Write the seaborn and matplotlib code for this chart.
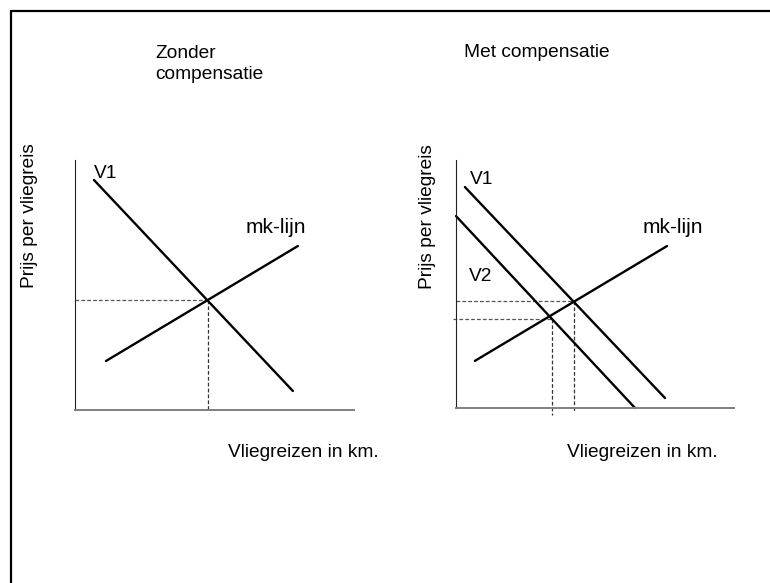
import numpy as np
import pandas as pd
import seaborn as sns
import matplotlib.pyplot as plt
from matplotlib.patches import Rectangle

# line end points, axis units 0..100 (price up, km right)
v1_left_x = [6.8, 78.1]
v1_left_y = [92.0, 7.6]
mk_left_x = [11.1, 79.9]
mk_left_y = [19.6, 65.6]
eq_left = (47.7, 44.0)

v1_right_x = [3.2, 75.2]
v1_right_y = [89.1, 4.0]
v2_right_x = [0.0, 64.4]
v2_right_y = [77.4, 0.0]
mk_right_x = [6.8, 75.9]
mk_right_y = [19.0, 65.3]
eq_right = [(42.4, 43.1), (34.6, 35.8)]

W, H = 770, 583


def px(x, y):
    # pixel position -> figure fraction
    return x / W, 1 - y / H


sns.set_theme(style="white")
plt.rcParams["font.family"] = ["Liberation Sans", "DejaVu Sans"]
plt.rcParams["text.color"] = "black"

fig = plt.figure(figsize=(7.7, 5.83), dpi=100)

# outer frame, right and bottom edge fall outside the picture
fig.patches.append(Rectangle(px(11, 700), 1.2, 689 / H,
                             transform=fig.transFigure, fill=False,
                             edgecolor="black", lw=1.6))

ax1 = fig.add_axes([75 / W, 1 - 410 / H, 279 / W, 250 / H])
ax2 = fig.add_axes([456 / W, 1 - 408 / H, 278 / W, 248 / H])

def style_axes(ax):
    ax.set_xlim(0, 100)
    ax.set_ylim(0, 100)
    ax.set_xticks([])
    ax.set_yticks([])
    ax.patch.set_alpha(0)
    for s in ["top", "right"]:
        ax.spines[s].set_visible(False)
    ax.spines["left"].set_color("#222222")
    ax.spines["left"].set_linewidth(0.8)
    ax.spines["bottom"].set_color("#808080")
    ax.spines["bottom"].set_linewidth(1.4)

def curve(ax, xs, ys):
    df = pd.DataFrame({"x": xs, "y": ys})
    sns.lineplot(data=df, x="x", y="y", ax=ax, color="black", lw=1.7,
                 sort=False, estimator=None, clip_on=False)

def guides(ax, q, p, floor=0, start=0):
    ax.plot([start, q], [p, p], color="#555555", lw=0.9, dashes=(3, 1.7),
            clip_on=False)
    ax.plot([q, q], [p, floor], color="#333333", lw=0.9, dashes=(3, 1.7),
            clip_on=False)

# zonder compensatie
guides(ax1, *eq_left)
curve(ax1, v1_left_x, v1_left_y)
curve(ax1, mk_left_x, mk_left_y)

# met compensatie
guides(ax2, *eq_right[0], floor=-1.2)
guides(ax2, *eq_right[1], floor=-2.8, start=-1.1)
curve(ax2, v1_right_x, v1_right_y)
curve(ax2, v2_right_x, v2_right_y)
curve(ax2, mk_right_x, mk_right_y)

for ax in (ax1, ax2):
    style_axes(ax)
    ax.set_xlabel("")
    ax.set_ylabel("")

fs = 13.8
fig.text(*px(155, 58), "Zonder", fontsize=fs, va="baseline")
fig.text(*px(155, 79), "compensatie", fontsize=fs, va="baseline")
fig.text(*px(464, 57), "Met compensatie", fontsize=fs, va="baseline")

fig.text(*px(94, 178), "V1", fontsize=fs, va="baseline")
fig.text(*px(246, 233), "mk-lijn", fontsize=15, va="baseline")
fig.text(*px(470, 184), "V1", fontsize=fs, va="baseline")
fig.text(*px(469, 281), "V2", fontsize=fs, va="baseline")
fig.text(*px(643, 233), "mk-lijn", fontsize=15, va="baseline")

fig.text(*px(30, 216), "Prijs per vliegreis", fontsize=fs, rotation=90,
         ha="center", va="center")
fig.text(*px(428, 217), "Prijs per vliegreis", fontsize=fs, rotation=90,
         ha="center", va="center")
fig.text(*px(228, 457), "Vliegreizen in km.", fontsize=fs, va="baseline")
fig.text(*px(567, 457), "Vliegreizen in km.", fontsize=fs, va="baseline")

fig.savefig("out.png", dpi=100, facecolor="white")
